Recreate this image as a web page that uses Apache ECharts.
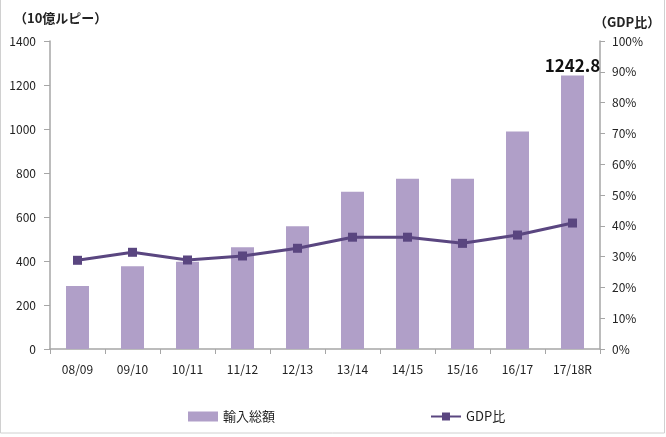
<!DOCTYPE html>
<html>
<head>
<meta charset="utf-8">
<script src="https://cdn.jsdelivr.net/npm/echarts@6/dist/echarts.min.js"></script>
<style>
  html, body { margin: 0; padding: 0; background: #fff; }
  #container { width: 666px; height: 437px; }
</style>
</head>
<body>
<div id="container"></div>
<script>
// fiscal years
const categories = ['08/09', '09/10', '10/11', '11/12', '12/13', '13/14', '14/15', '15/16', '16/17', '17/18R'];
// 輸入総額 (10億ルピー)
const importTotal = [286, 376, 397, 462, 558, 715, 774, 774, 989, 1242.8];
// GDP比 (%)
const gdpRatio = [28.8, 31.4, 28.9, 30.2, 32.7, 36.3, 36.3, 34.3, 37.0, 40.9];

const font = '"Noto Sans CJK JP", "Noto Sans", sans-serif';
const axisGray = '#a6a6a6';

let option = {
    animation: false,
    textStyle: { fontFamily: font },
    grid: {
        left: 50,
        right: 66,
        top: 41,
        bottom: 88
    },
    legend: {
        left: 183,
        top: 405,
        itemGap: 155,
        itemWidth: 30,
        itemHeight: 10,
        textStyle: { fontSize: 13, color: '#222', fontFamily: font },
        data: [
            { name: '輸入総額', icon: 'rect' },
            { name: 'GDP比' }
        ]
    },
    xAxis: {
        type: 'category',
        data: categories,
        axisLine: { lineStyle: { color: axisGray, width: 1.5 } },
        axisTick: { show: true, lineStyle: { color: axisGray } },
        axisLabel: { color: '#222', fontSize: 12, margin: 14 }
    },
    yAxis: [
        {
            type: 'value',
            min: 0,
            max: 1400,
            interval: 200,
            name: '（10億ルピー）',
            nameLocation: 'end',
            nameGap: 16,
            nameTextStyle: { align: 'left', padding: [0, 0, 0, -36], fontWeight: 'bold', color: '#222', fontSize: 13 },
            axisLine: { show: true, lineStyle: { color: axisGray, width: 1.5 } },
            axisTick: { show: true, length: 6, lineStyle: { color: axisGray } },
            splitLine: { show: false },
            axisLabel: { color: '#222', fontSize: 12, margin: 14, formatter: function (v) { return String(v); } }
        },
        {
            type: 'value',
            min: 0,
            max: 100,
            interval: 10,
            name: '（GDP比）',
            nameLocation: 'end',
            nameGap: 12,
            nameTextStyle: { align: 'left', padding: [0, 0, 0, -6], fontWeight: 'bold', color: '#222', fontSize: 13 },
            axisLine: { show: true, lineStyle: { color: axisGray, width: 1.5 } },
            axisTick: { show: true, length: 5, lineStyle: { color: axisGray } },
            splitLine: { show: false },
            axisLabel: { color: '#222', fontSize: 12, margin: 12, formatter: '{value}%' }
        }
    ],
    series: [
        {
            name: '輸入総額',
            type: 'bar',
            data: importTotal.map(function (v, i) {
                if (i === importTotal.length - 1) {
                    return {
                        value: v,
                        label: {
                            show: true,
                            position: 'top',
                            distance: 2,
                            formatter: '{c}',
                            fontSize: 17,
                            fontWeight: 'bold',
                            color: '#111'
                        }
                    };
                }
                return v;
            }),
            barWidth: 23,
            itemStyle: { color: '#b09fc8' }
        },
        {
            name: 'GDP比',
            type: 'line',
            yAxisIndex: 1,
            data: gdpRatio,
            symbol: 'rect',
            symbolSize: 9,
            lineStyle: { color: '#5a4680', width: 3 },
            itemStyle: { color: '#5a4680' }
        }
    ],
    graphic: [
        {
            type: 'rect',
            shape: { x: 0.5, y: -2, width: 664, height: 435 },
            style: { fill: 'none', stroke: '#d0d0d0', lineWidth: 1 },
            silent: true
        }
    ]
};

let chartDom = document.getElementById('container');
let chrt = echarts.init(chartDom);
chrt.setOption(option);
</script>
</body>
</html>
